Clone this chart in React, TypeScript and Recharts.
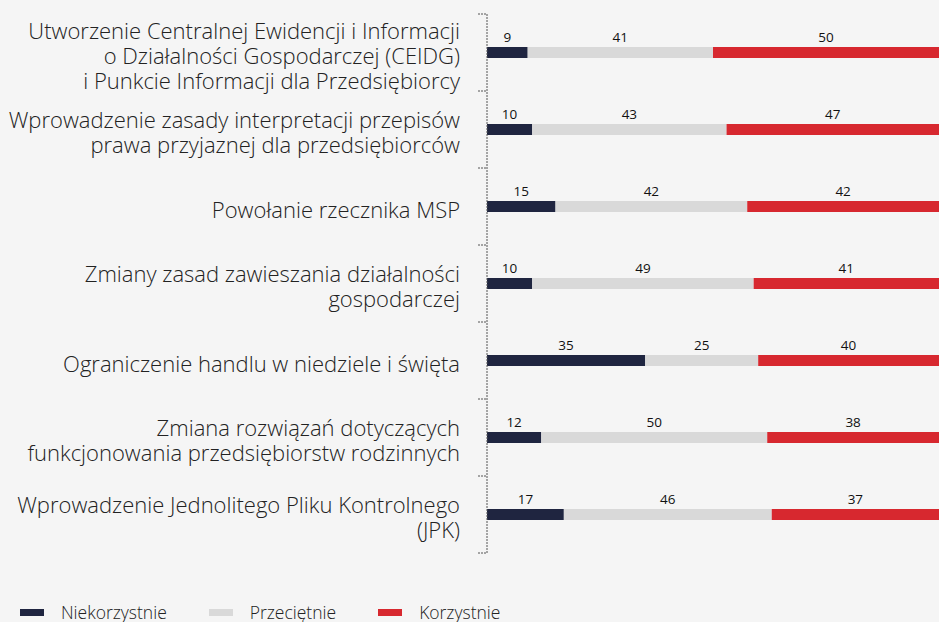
import React from 'react';
import { BarChart, Bar, XAxis, YAxis, LabelList } from 'recharts';

const categories = [
  'Utworzenie Centralnej Ewidencji i Informacji\no Działalności Gospodarczej (CEIDG)\ni Punkcie Informacji dla Przedsiębiorcy',
  'Wprowadzenie zasady interpretacji przepisów\nprawa przyjaznej dla przedsiębiorców',
  'Powołanie rzecznika MSP',
  'Zmiany zasad zawieszania działalności\ngospodarczej',
  'Ograniczenie handlu w niedziele i święta',
  'Zmiana rozwiązań dotyczących\nfunkcjonowania przedsiębiorstw rodzinnych',
  'Wprowadzenie Jednolitego Pliku Kontrolnego\n(JPK)',
];
const niekorzystnie = [9, 10, 15, 10, 35, 12, 17];
const przecietnie = [41, 43, 42, 49, 25, 50, 46];
const korzystnie = [50, 47, 42, 41, 40, 38, 37];

const seriesNames = ['Niekorzystnie', 'Przeciętnie', 'Korzystnie'];
const seriesColors = ['#1f2540', '#d9d9d9', '#d7282f'];

const data = categories.map((name, i) => ({
  name,
  niekorzystnie: niekorzystnie[i],
  przecietnie: przecietnie[i],
  korzystnie: korzystnie[i],
}));

const W = 939;
const H = 622;
const TOP = 14;
const BOTTOM = 69;
const AXIS_W = 487;
const BAND = (H - TOP - BOTTOM) / categories.length;
const FONT = '"Open Sans", sans-serif';

const CategoryTick = (props: any) => {
  const { x, y, payload, index } = props;
  const lines = String(payload.value).split('\n');
  const lh = 25;
  const start = y + 2 - ((lines.length - 1) * lh) / 2;
  return (
    <g>
      <line x1={x + 18} x2={x + 27} y1={y - BAND / 2} y2={y - BAND / 2} stroke="#555" strokeDasharray="2 1" />
      {index === categories.length - 1 && (
        <line x1={x + 18} x2={x + 27} y1={y + BAND / 2} y2={y + BAND / 2} stroke="#555" strokeDasharray="2 1" />
      )}
      <text x={x} y={start} textAnchor="end" dominantBaseline="central" fontSize={22} fontWeight={300} fill="#222" fontFamily={FONT}>
        {lines.map((l, i) => (
          <tspan key={i} x={x} y={start + i * lh}>{l}</tspan>
        ))}
      </text>
    </g>
  );
};

export default function App() {
  const keys = ['niekorzystnie', 'przecietnie', 'korzystnie'];
  return (
    <div style={{ position: 'absolute', left: 0, top: 0, width: W, height: H, background: '#f5f5f5', fontFamily: FONT, overflow: 'hidden' }}>
      <BarChart
        width={W}
        height={H}
        data={data}
        layout="vertical"
        stackOffset="expand"
        margin={{ top: TOP, right: 0, bottom: BOTTOM, left: 0 }}
      >
        <XAxis type="number" domain={[0, 1]} hide />
        <YAxis
          type="category"
          dataKey="name"
          width={AXIS_W}
          tickSize={0}
          tickMargin={27}
          tick={<CategoryTick />}
          axisLine={{ stroke: '#555', strokeDasharray: '2 1' }}
          interval={0}
        />
        {keys.map((k, i) => (
          <Bar key={k} dataKey={k} name={seriesNames[i]} stackId="a" fill={seriesColors[i]} barSize={11} isAnimationActive={false}>
            <LabelList dataKey={k} position="top" offset={5} fontSize={13.5} fill="#111" fontFamily={FONT} />
          </Bar>
        ))}
      </BarChart>
      <div style={{ position: 'absolute', left: 20, top: 604, height: 17, display: 'flex', alignItems: 'center', fontSize: 17.5, lineHeight: '17px', fontWeight: 300, color: '#222' }}>
        {seriesNames.map((n, i) => (
          <div key={n} style={{ display: 'flex', alignItems: 'center', marginRight: 42 }}>
            <span style={{ display: 'inline-block', width: 24, height: 7, background: seriesColors[i], marginRight: 17 }} />
            <span>{n}</span>
          </div>
        ))}
      </div>
    </div>
  );
}
